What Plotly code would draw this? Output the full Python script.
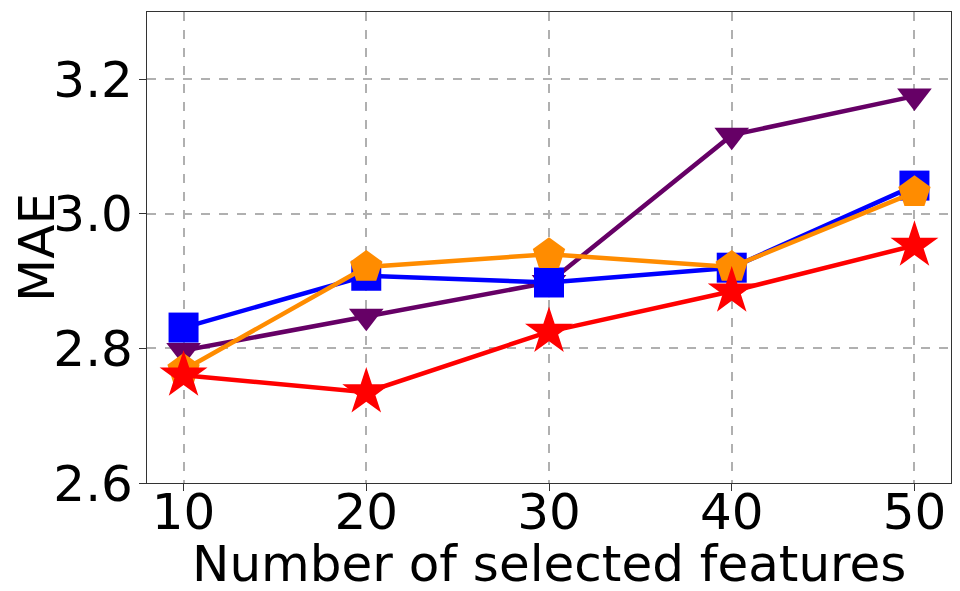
import plotly.graph_objects as go

# number of selected features
features = [10, 20, 30, 40, 50]

# MAE per method
mae_purple = [2.797, 2.848, 2.898, 3.117, 3.175]
mae_blue = [2.831, 2.908, 2.898, 2.920, 3.042]
mae_orange = [2.768, 2.921, 2.940, 2.921, 3.032]
mae_red = [2.760, 2.735, 2.825, 2.885, 2.953]

series = [
    (mae_purple, '#660066', 'triangle-down', 30),
    (mae_blue, '#0000ff', 'square', 30),
    (mae_orange, '#ff8c00', 'pentagon', 34),
    (mae_red, '#ff0000', 'star', 36),
]

fig = go.Figure()
for vals, color, symbol, size in series:
    fig.add_trace(go.Scatter(
        x=features, y=vals, mode='lines+markers',
        line=dict(color=color, width=4.5),
        marker=dict(symbol=symbol, size=size, color=color, line=dict(width=0)),
        showlegend=False))

axis_style = dict(
    showline=True, linecolor='#333333', linewidth=1.2, mirror=True,
    ticks='outside', ticklen=7, tickwidth=1.2, tickcolor='#333333',
    showgrid=True, gridcolor='#b0b0b0', griddash='dash', gridwidth=1.5,
    zeroline=False, automargin=False,
    tickfont=dict(family='DejaVu Sans', size=50, color='black'),
)

# the page body adds an 8px offset, so margins are shifted to compensate
fig.update_layout(
    width=960, height=591,
    margin=dict(l=139, r=17, t=4, b=116),
    paper_bgcolor='white', plot_bgcolor='white',
    font=dict(family='DejaVu Sans', color='black'),
    xaxis=dict(axis_style, range=[8, 52], tickvals=features,
               ticklabelstandoff=-22),
    yaxis=dict(axis_style, range=[2.6, 3.3], tickvals=[2.6, 2.8, 3.0, 3.2],
               ticktext=['2.6', '2.8', '3.0', '3.2'], ticklabelstandoff=-4,
               title=dict(text='MAE', font=dict(size=50), standoff=2)),
    annotations=[dict(
        text='Number of selected features', xref='paper', yref='paper',
        x=0.5, y=-0.172, xanchor='center', yanchor='middle', showarrow=False,
        font=dict(family='DejaVu Sans', size=50, color='black'))],
)

fig.write_html("out.html")
